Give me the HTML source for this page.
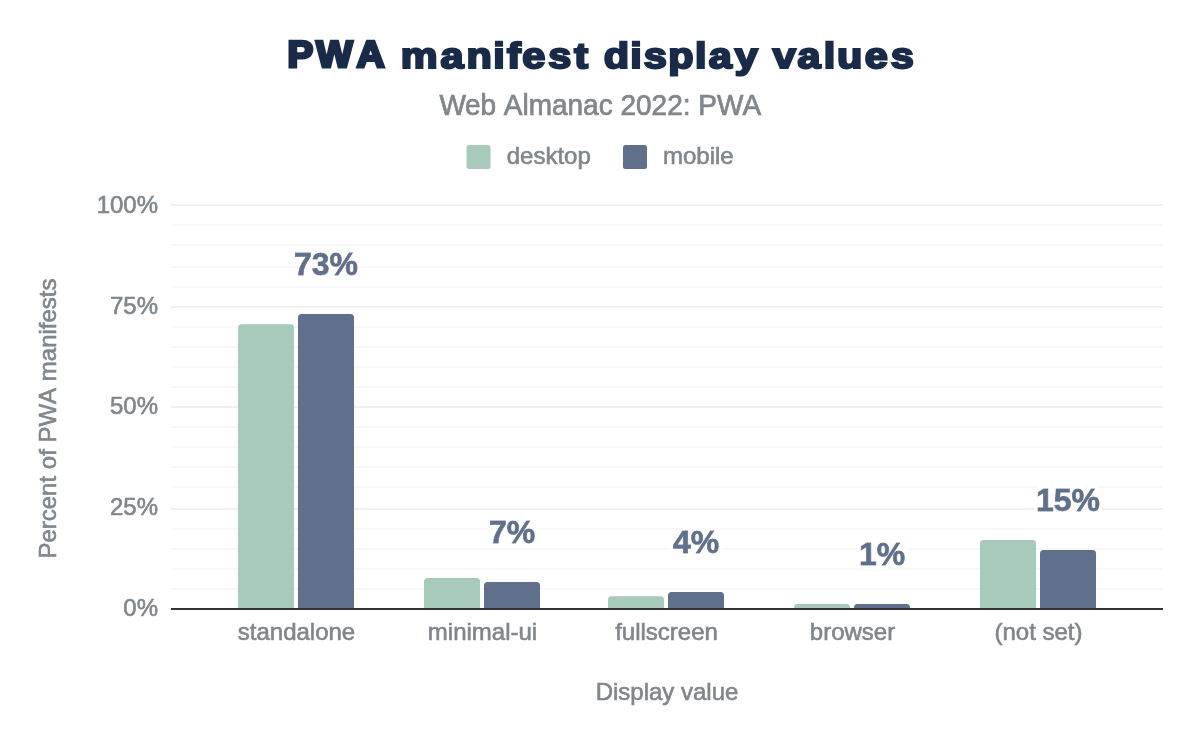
<!DOCTYPE html>
<html lang="en">
<head>
<meta charset="utf-8">
<title>PWA manifest display values</title>
<style>
html,body{margin:0;padding:0;background:#fff;}
body{width:1200px;height:742px;overflow:hidden;}
svg{display:block;}
text{font-family:"Liberation Sans",Arial,Helvetica,sans-serif;font-kerning:none;}
.title{font-weight:bold;font-size:36px;text-rendering:geometricPrecision;fill:#1a2b49;stroke:#1a2b49;stroke-width:2.2px;stroke-linejoin:miter;stroke-miterlimit:3;}
.sub{font-size:28px;fill:#80868b;stroke:#80868b;stroke-width:0.7px;}
.leg,.ax{font-size:24px;fill:#80868b;stroke:#80868b;stroke-width:0.6px;}
.val{font-size:32px;font-weight:bold;fill:#5f6f8c;stroke:#5f6f8c;stroke-width:0.8px;stroke-linejoin:miter;}
.minor{fill:#f8f8f8;}
.major{fill:#f0f0f0;}
.d{fill:#a8cabb;}
.m{fill:#5f6f8c;}
</style>
</head>
<body>
<svg width="1200" height="742" viewBox="0 0 1200 742">
<defs><filter id="halo" x="0" y="0" width="1200" height="742" filterUnits="userSpaceOnUse"><feMorphology in="SourceAlpha" operator="dilate" radius="3" result="d"/><feFlood flood-color="#ffffff"/><feComposite in2="d" operator="in" result="h"/><feMerge><feMergeNode in="h"/><feMergeNode in="SourceGraphic"/></feMerge></filter></defs>
<rect width="1200" height="742" fill="#ffffff"/>
<text class="title" style="font-size:37.3px;stroke-width:3.1px" transform="translate(0,67.25) scale(1.03,1)" x="279.02 306.98 346.30" y="0">PWA</text><text class="title" transform="translate(0,67.65) scale(1.1500,1)" x="338.70 348.45 382.99 405.62 428.85 440.84 454.22 476.77 499.31 515.13 525.07 548.15 559.90 581.08 604.33 616.38 638.92 660.87 671.96 693.59 716.37 727.92 751.96 774.51" y="0" xml:space="preserve"> manifest display values</text>
<text class="sub" transform="translate(439.5,115) scale(1,1.04)">W<tspan dx="-1">eb Almanac 2022: PW</tspan><tspan dx="-0.8">A</tspan></text>
<rect class="d" x="466.5" y="145" width="24" height="24" rx="2.5"/>
<text class="leg" x="506.7" y="164">desktop</text>
<rect class="m" x="623" y="145" width="24" height="24" rx="2.5"/>
<text class="leg" x="663" y="164">mobile</text>
<g id="grid">
<rect class="major" x="171" y="204" width="992" height="2"/>
<rect class="minor" x="171" y="224" width="992" height="2"/>
<rect class="minor" x="171" y="244" width="992" height="2"/>
<rect class="minor" x="171" y="266" width="992" height="2"/>
<rect class="minor" x="171" y="286" width="992" height="2"/>
<rect class="major" x="171" y="306" width="992" height="2"/>
<rect class="minor" x="171" y="326" width="992" height="2"/>
<rect class="minor" x="171" y="346" width="992" height="2"/>
<rect class="minor" x="171" y="366" width="992" height="2"/>
<rect class="minor" x="171" y="386" width="992" height="2"/>
<rect class="major" x="171" y="406" width="992" height="2"/>
<rect class="minor" x="171" y="426" width="992" height="2"/>
<rect class="minor" x="171" y="446" width="992" height="2"/>
<rect class="minor" x="171" y="466" width="992" height="2"/>
<rect class="minor" x="171" y="486" width="992" height="2"/>
<rect class="major" x="171" y="508" width="992" height="2"/>
<rect class="minor" x="171" y="528" width="992" height="2"/>
<rect class="minor" x="171" y="548" width="992" height="2"/>
<rect class="minor" x="171" y="568" width="992" height="2"/>
<rect class="minor" x="171" y="588" width="992" height="2"/>
</g>
<g id="bars">
<path class="d" d="M238,609V327.7Q238,324.2 241.5,324.2H290.5Q294,324.2 294,327.7V609Z"/>
<path class="m" d="M298,609V317.5Q298,314 301.5,314H350.5Q354,314 354,317.5V609Z"/>
<path class="d" d="M424,609V581.5Q424,578 427.5,578H476.5Q480,578 480,581.5V609Z"/>
<path class="m" d="M484,609V585.5Q484,582 487.5,582H536.5Q540,582 540,585.5V609Z"/>
<path class="d" d="M608,609V599.7Q608,596.2 611.5,596.2H660.5Q664,596.2 664,599.7V609Z"/>
<path class="m" d="M668,609V595.5Q668,592 671.5,592H720.5Q724,592 724,595.5V609Z"/>
<path class="d" d="M794,609V607.5Q794,604 797.5,604H846.5Q850,604 850,607.5V609Z"/>
<path class="m" d="M854,609V607.5Q854,604 857.5,604H906.5Q910,604 910,607.5V609Z"/>
<path class="d" d="M980,609V543.5Q980,540 983.5,540H1032.5Q1036,540 1036,543.5V609Z"/>
<path class="m" d="M1040,609V553.5Q1040,550 1043.5,550H1092.5Q1096,550 1096,553.5V609Z"/>
</g>
<rect x="171" y="608" width="992" height="2" fill="#333"/>
<g id="vals" filter="url(#halo)">
<text class="val" x="326" y="275.4" text-anchor="middle">73%</text>
<text class="val" x="512" y="543.4" text-anchor="middle">7%</text>
<text class="val" x="696" y="553.4" text-anchor="middle">4%</text>
<text class="val" x="882" y="565.4" text-anchor="middle">1%</text>
<text class="val" x="1068" y="511.4" text-anchor="middle">15%</text>
</g>
<g id="yl">
<text class="ax" transform="translate(158,212.8) scale(1,1.035)" text-anchor="end">100%</text>
<text class="ax" transform="translate(158,313.9) scale(1,1.035)" text-anchor="end">75%</text>
<text class="ax" transform="translate(158,414.3) scale(1,1.035)" text-anchor="end">50%</text>
<text class="ax" transform="translate(158,514.8) scale(1,1.035)" text-anchor="end">25%</text>
<text class="ax" transform="translate(158,615.9) scale(1,1.035)" text-anchor="end">0%</text>
</g>
<g id="cats">
<text class="ax" x="296.5" y="640" text-anchor="middle">standalone</text>
<text class="ax" x="482.5" y="640" text-anchor="middle">minimal-ui</text>
<text class="ax" x="666.5" y="640" text-anchor="middle">fullscreen</text>
<text class="ax" x="852.5" y="640" text-anchor="middle">browser</text>
<text class="ax" x="1038.5" y="640" text-anchor="middle">(not set)</text>
</g>
<text class="ax" x="667" y="699.5" text-anchor="middle">Display value</text>
<text class="ax" transform="translate(55.7,558.6) rotate(-90)">Percent of PWA manifests</text>
</svg>
</body>
</html>
